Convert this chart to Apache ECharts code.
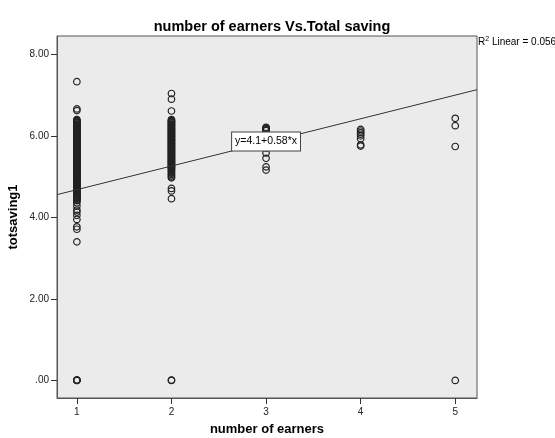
<!DOCTYPE html>
<html><head><meta charset="utf-8">
<script src="https://cdn.jsdelivr.net/npm/echarts@6/dist/echarts.min.js"></script>
<style>html,body{margin:0;padding:0;background:#fff}#c{width:555px;height:438px}</style>
</head><body><div id="c"></div>
<script>
// ---- data ----
const titleText = 'number of earners Vs.Total saving';
const xName = 'number of earners';
const yName = 'totsaving1';
const xTicks = [1, 2, 3, 4, 5];
const yTicks = [0, 2, 4, 6, 8];
const earners1 = [7.33, 6.66, 6.62, 6.40, 6.38, 6.36, 6.35, 6.33, 6.31, 6.29, 6.27, 6.26, 6.24, 6.22, 6.20, 6.18, 6.17, 6.15,
  6.13, 6.11, 6.09, 6.08, 6.06, 6.04, 6.02, 6.00, 5.99, 5.97, 5.95, 5.93, 5.91, 5.90, 5.88, 5.86, 5.84, 5.82, 5.81, 5.79,
  5.77, 5.75, 5.73, 5.72, 5.70, 5.68, 5.66, 5.64, 5.63, 5.61, 5.59, 5.57, 5.55, 5.54, 5.52, 5.50, 5.48, 5.46, 5.45, 5.43,
  5.41, 5.39, 5.37, 5.36, 5.34, 5.32, 5.30, 5.28, 5.27, 5.25, 5.23, 5.21, 5.19, 5.18, 5.16, 5.14, 5.12, 5.10, 5.09, 5.07,
  5.05, 5.03, 5.01, 5.00, 4.98, 4.96, 4.94, 4.92, 4.91, 4.89, 4.87, 4.85, 4.83, 4.82, 4.80, 4.78, 4.76, 4.74, 4.73, 4.71,
  4.69, 4.67, 4.65, 4.64, 4.62, 4.60, 4.58, 4.56, 4.55, 4.53, 4.51, 4.49, 4.47, 4.45, 4.43, 4.41, 4.36, 4.28, 4.18, 4.13,
  4.05, 3.95, 3.77, 3.71, 3.40, 0, 0.01, 0, 0.01];
const earners2 = [7.04, 6.90, 6.61, 6.40, 6.38, 6.36, 6.35, 6.33, 6.31, 6.29, 6.27, 6.26, 6.24, 6.22, 6.20, 6.18, 6.17, 6.15,
  6.13, 6.11, 6.09, 6.08, 6.06, 6.04, 6.02, 6.00, 5.99, 5.97, 5.95, 5.93, 5.91, 5.90, 5.88, 5.86, 5.84, 5.82, 5.81, 5.79,
  5.77, 5.75, 5.73, 5.72, 5.70, 5.68, 5.66, 5.64, 5.63, 5.61, 5.59, 5.57, 5.55, 5.54, 5.52, 5.50, 5.48, 5.46, 5.45, 5.43,
  5.41, 5.39, 5.37, 5.36, 5.34, 5.32, 5.30, 5.28, 5.27, 5.25, 5.23, 5.21, 5.19, 5.17, 5.14, 5.11, 5.08, 5.05, 5.02, 4.99,
  4.97, 4.71, 4.65, 4.46, 0, 0.01];
const earners3 = [6.21, 6.19, 6.17, 6.15, 6.13, 5.90, 5.70, 5.58, 5.45, 5.24, 5.16];
const earners4 = [6.16, 6.12, 6.08, 6.04, 6.00, 5.93, 5.78, 5.75];
const earners5 = [6.43, 6.25, 5.74, 0];
const fitIntercept = 4.1;
const fitSlope = 0.58;
const fitLabel = 'y=4.1+0.58*x';
const r2Text = 'Linear = 0.056';

// ---- build ----
const xMin = 0.79, xMax = 5.23, yMin = -0.43, yMax = 8.45;
const groups = [[1, earners1], [2, earners2], [3, earners3], [4, earners4], [5, earners5]];
const points = [];
groups.forEach(([x, vals]) => vals.forEach(v => points.push([x, v])));
const fitLine = [[xMin, fitIntercept + fitSlope * xMin], [xMax, fitIntercept + fitSlope * xMax]];

const font = 'Liberation Sans, Arial, sans-serif';
const chart = echarts.init(document.getElementById('c'), null, {renderer: 'canvas'});
chart.setOption({
  animation: false,
  backgroundColor: '#ffffff',
  title: {
    text: titleText, left: 267, top: 14, textAlign: 'center',
    textStyle: {fontFamily: font, fontSize: 14.5, fontWeight: 'bold', color: '#000'}
  },
  grid: {left: 57, right: 78, top: 36, bottom: 40, containLabel: false, outerBoundsMode: 'none',
    show: true, backgroundColor: '#EBEBEB', borderColor: '#555', borderWidth: 1},
  xAxis: {
    type: 'value', min: xMin, max: xMax,
    name: xName, nameLocation: 'middle', nameGap: 25,
    nameTextStyle: {fontFamily: font, fontSize: 13, fontWeight: 'bold', color: '#000'},
    axisLine: {show: true, onZero: false, lineStyle: {color: '#555'}},
    axisTick: {show: true, inside: false, customValues: xTicks, length: 6, lineStyle: {color: '#333'}},
    axisLabel: {customValues: xTicks, fontFamily: font, fontSize: 10, color: '#222', margin: 9},
    splitLine: {show: false}
  },
  yAxis: {
    type: 'value', min: yMin, max: yMax,
    name: yName, nameLocation: 'middle', nameGap: 37, nameRotate: 90, nameMoveOverlap: false,
    nameTextStyle: {fontFamily: font, fontSize: 13, fontWeight: 'bold', color: '#000'},
    axisLine: {show: true, onZero: false, lineStyle: {color: '#555'}},
    axisTick: {show: true, inside: false, customValues: yTicks, length: 6, lineStyle: {color: '#333'}},
    axisLabel: {customValues: yTicks, fontFamily: font, fontSize: 10, color: '#222', margin: 8,
      formatter: v => v === 0 ? '.00' : v.toFixed(2)},
    splitLine: {show: false}
  },
  graphic: [{
    type: 'text', left: 478, top: 36,
    style: {
      text: '{b|R}{s|2}{b| ' + r2Text + '}',
      rich: {b: {fontFamily: font, fontSize: 10, fill: '#000', verticalAlign: 'bottom'},
             s: {fontFamily: font, fontSize: 7, fill: '#000', verticalAlign: 'top', padding: [0, 0, 4, 0]}}
    }
  }],
  series: [{
    type: 'scatter', data: points, symbol: 'circle', symbolSize: 6.5,
    itemStyle: {color: 'rgba(0,0,0,0)', borderColor: '#222', borderWidth: 1.2, opacity: 1}, z: 2
  }, {
    type: 'line', data: fitLine, symbol: 'none', lineStyle: {color: '#333', width: 1}, z: 3,
    markPoint: {
      symbol: 'rect', symbolSize: 1, itemStyle: {color: 'transparent'},
      data: [{coord: [3.0, 5.86], value: fitLabel}],
      label: {show: true, position: 'inside', formatter: fitLabel, fontFamily: font, fontSize: 10.5, color: '#000',
        backgroundColor: '#fff', borderColor: '#444', borderWidth: 1, padding: [4, 3, 3, 3]}
    }
  }]
});
</script></body></html>
